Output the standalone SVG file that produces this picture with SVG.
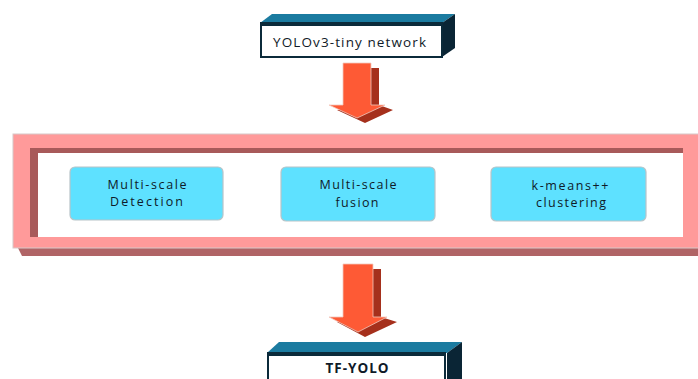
<svg xmlns="http://www.w3.org/2000/svg" width="698" height="379" viewBox="0 0 698 379">
<style>
text{font-family:"Open Sans","Liberation Sans",Arial,sans-serif;fill:#0f1a28;text-anchor:middle;}
.lbl{font-size:13.5px;}
.in{font-size:12.5px;}
.box{fill:#5ee1ff;stroke:#b8c4c8;stroke-width:1.2;}
.topf{fill:#1b7ba0;}
.side{fill:#0a2535;}
.front{fill:#ffffff;stroke:#0b2a3a;stroke-width:2;}
.arrow{fill:#fe5a35;stroke:#f3c8bc;stroke-width:0.8;}
.ash{fill:#a5301c;}
</style>
<rect width="698" height="379" fill="#ffffff"/>

<g id="yolov3-tiny">
  <polygon class="topf" points="260,23 272,14 455,14 442,23"/>
  <polygon class="side" points="442,23 455,14 455,48 442,57"/>
  <rect class="front" x="261" y="23" width="181" height="34"/>
  <rect x="261" y="22" width="181" height="4" fill="#0b2a3a"/>
  <text class="lbl" x="349.5" y="47" textLength="153" lengthAdjust="spacing">YOLOv3-tiny network</text>
</g>

<g id="frame">
  <polygon points="18,248 698,248 698,256 22,256" fill="#b06466"/>
  <rect x="13" y="134" width="690" height="114" fill="#ff9a9a" stroke="#d8c8c8" stroke-width="1"/>
  <rect x="30" y="148" width="653" height="89" fill="#ffffff"/>
  <rect x="30" y="148" width="653" height="5" fill="#a85a5a"/>
  <rect x="30" y="148" width="8" height="89" fill="#a85a5a"/>
</g>

<g id="connectors">
  <polygon class="ash" points="351,68 379,68 379,105 393,110 365,123 337,110 351,110"/>
  <polygon class="arrow" points="343,63 371,63 371,105 385,105 357,118 329,105 343,105"/>
  <polygon class="ash" points="351,269 381,269 381,317 397,322 365,337 337,322 351,322"/>
  <polygon class="arrow" points="343,264 373,264 373,317 387,317 358,332 329,317 343,317"/>
</g>

<g id="multi-scale-detection">
  <rect class="box" x="70" y="167" width="153" height="53" rx="5"/>
  <text class="in" x="147" y="189" textLength="79" lengthAdjust="spacing">Multi-scale</text>
  <text class="in" x="146.5" y="206" textLength="73" lengthAdjust="spacing">Detection</text>
</g>

<g id="multi-scale-fusion">
  <rect class="box" x="281" y="167" width="154" height="54" rx="5"/>
  <text class="in" x="358" y="189" textLength="77" lengthAdjust="spacing">Multi-scale</text>
  <text class="in" x="357" y="207" textLength="43" lengthAdjust="spacing">fusion</text>
</g>

<g id="kmeans-clustering">
  <rect class="box" x="491" y="167" width="155" height="54" rx="5"/>
  <text class="in" x="570" y="190" textLength="77" lengthAdjust="spacing">k-means++</text>
  <text class="in" x="571" y="207" textLength="70" lengthAdjust="spacing">clustering</text>
</g>

<g id="tf-yolo">
  <polygon class="topf" points="267,353 279,342 462,342 447,353"/>
  <polygon class="side" points="447,353 462,342 462,379 447,379"/>
  <rect class="front" x="268" y="353" width="177" height="32"/>
  <rect x="268" y="352" width="177" height="4" fill="#0b2a3a"/>
  <text class="lbl" x="357" y="373" font-weight="bold" textLength="63" lengthAdjust="spacing">TF-YOLO</text>
</g>
</svg>
